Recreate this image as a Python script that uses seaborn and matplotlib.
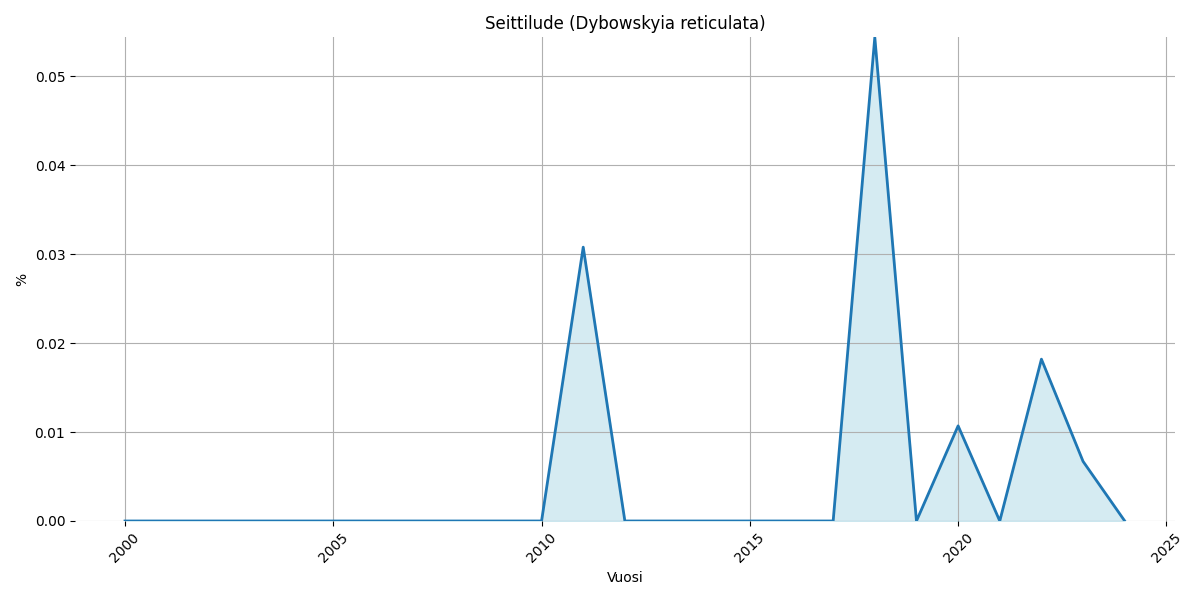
import numpy as np
import pandas as pd
import matplotlib
matplotlib.use("Agg")
import matplotlib.pyplot as plt
import seaborn as sns

# Vuodet ja osuudet (%)
years = list(range(2000, 2025))
values = [0.0] * 11 + [0.0308, 0.0, 0.0, 0.0, 0.0, 0.0, 0.0, 0.0544, 0.0,
                       0.0107, 0.0, 0.0182, 0.0067, 0.0]

df = pd.DataFrame({"Vuosi": years, "%": values})

fig, ax = plt.subplots(figsize=(12, 6), dpi=100)
sns.lineplot(data=df, x="Vuosi", y="%", ax=ax, color="#1f77b4", linewidth=2)
ax.fill_between(df["Vuosi"], df["%"], color="lightblue", alpha=0.5)

ax.set_ylim(0, max(values))
ax.set_title("Seittilude (Dybowskyia reticulata)")
ax.set_xlabel("Vuosi")
ax.set_ylabel("%")
ax.grid(True)
for s in ax.spines.values():
    s.set_visible(False)
plt.xticks(rotation=45)
plt.tight_layout()
plt.savefig("out.png")
plt.close()
